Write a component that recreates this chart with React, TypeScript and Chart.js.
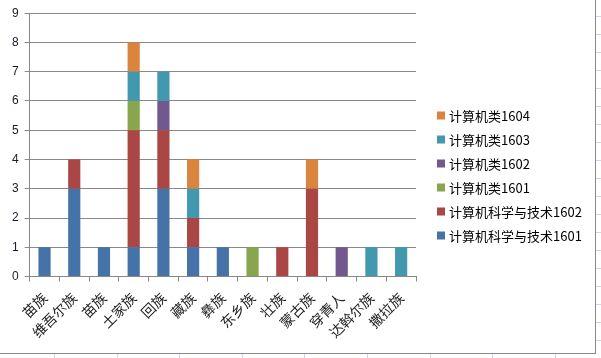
import React, { useEffect, useRef } from "react";
import { Chart, registerables } from "chart.js";

Chart.register(...registerables);

const categories = ["苗族", "维吾尔族", "苗族", "土家族", "回族", "藏族", "彝族", "东乡族", "壮族", "蒙古族", "穿青人", "达斡尔族", "撒拉族"];
const seriesNames = ["计算机科学与技术1601", "计算机科学与技术1602", "计算机类1601", "计算机类1602", "计算机类1603", "计算机类1604"];
const cs1601 = [1, 3, 1, 1, 3, 1, 1, 0, 0, 0, 0, 0, 0];
const cs1602 = [0, 1, 0, 4, 2, 1, 0, 0, 1, 3, 0, 0, 0];
const jsj1601 = [0, 0, 0, 1, 0, 0, 0, 1, 0, 0, 0, 0, 0];
const jsj1602 = [0, 0, 0, 0, 1, 0, 0, 0, 0, 0, 1, 0, 0];
const jsj1603 = [0, 0, 0, 1, 1, 1, 0, 0, 0, 0, 0, 1, 1];
const jsj1604 = [0, 0, 0, 1, 0, 1, 0, 0, 0, 1, 0, 0, 0];
const seriesValues = [cs1601, cs1602, jsj1601, jsj1602, jsj1603, jsj1604];
const colors = ["#4572A7", "#AA4643", "#89A54E", "#71588F", "#4198AF", "#DB843D"];
const yTicks = [0, 1, 2, 3, 4, 5, 6, 7, 8, 9];

const rightLegend = {
  id: "rightLegend",
  afterDraw(chart: any) {
    const ctx = chart.ctx;
    const ds = chart.data.datasets.slice().reverse();
    const x0 = chart.chartArea.right + 21;
    const yStart = 115.5;
    const step = 24;
    ctx.save();
    ctx.font = "13px 'Noto Sans CJK SC', sans-serif";
    ctx.textBaseline = "middle";
    ctx.textAlign = "left";
    ds.forEach((d: any, i: number) => {
      const cy = yStart + i * step;
      ctx.fillStyle = d.backgroundColor;
      ctx.fillRect(x0, cy - 4, 8, 8);
      ctx.fillStyle = "#000";
      ctx.fillText(d.label, x0 + 12, cy + 0.5);
    });
    ctx.restore();
  },
};

export default function App() {
  const ref = useRef<HTMLCanvasElement>(null);
  useEffect(() => {
    if (!ref.current) return;
    const chart = new Chart(ref.current, {
      type: "bar",
      data: {
        labels: categories,
        datasets: seriesNames.map((name, i) => ({
          label: name,
          data: seriesValues[i],
          backgroundColor: colors[i],
          borderWidth: 0,
          categoryPercentage: 1,
          barPercentage: 0.41,
        })),
      },
      options: {
        animation: false,
        responsive: false,
        maintainAspectRatio: false,
        layout: { padding: { left: 6, top: 6, right: 179, bottom: 4 } },
        plugins: {
          tooltip: { enabled: false },
          legend: { display: false },
        },
        scales: {
          x: {
            stacked: true,
            grid: { display: true, drawOnChartArea: false, offset: true, color: "#888", tickLength: 5 },
            border: { display: true, color: "#888" },
            ticks: {
              maxRotation: 45,
              minRotation: 45,
              color: "#222",
              padding: 8,
              font: { family: "'Noto Sans CJK SC', sans-serif", size: 14 },
            },
          },
          y: {
            stacked: true,
            min: 0,
            max: 9,
            afterBuildTicks: (axis: any) => {
              axis.ticks = yTicks.map((v) => ({ value: v }));
            },
            grid: { color: "#888", tickLength: 5 },
            border: { display: true, color: "#888" },
            ticks: {
              color: "#1a1a2e",
              padding: 6,
              font: { family: "'Liberation Sans', sans-serif", size: 12 },
            },
          },
        },
      },
      plugins: [rightLegend],
    });
    return () => chart.destroy();
  }, []);
  return (
    <div
      style={{
        position: "absolute",
        left: 0,
        top: 0,
        width: 601,
        height: 358,
        background: "#fff",
        backgroundImage:
          "repeating-linear-gradient(to bottom, transparent 0, transparent 16px, #d0d7e5 16px, #d0d7e5 17px, transparent 17px, transparent 18px), repeating-linear-gradient(to right, transparent 0, transparent 54px, #d0d7e5 54px, #d0d7e5 55px, transparent 55px, transparent 62.6px)",
      }}
    >
      <div
        style={{
          position: "absolute",
          left: 0,
          top: 0,
          width: 595,
          height: 353,
          background: "#fff",
          borderRight: "1px solid #888",
          borderBottom: "1px solid #888",
        }}
      >
        <canvas ref={ref} width={595} height={353} style={{ display: "block" }} />
      </div>
    </div>
  );
}
